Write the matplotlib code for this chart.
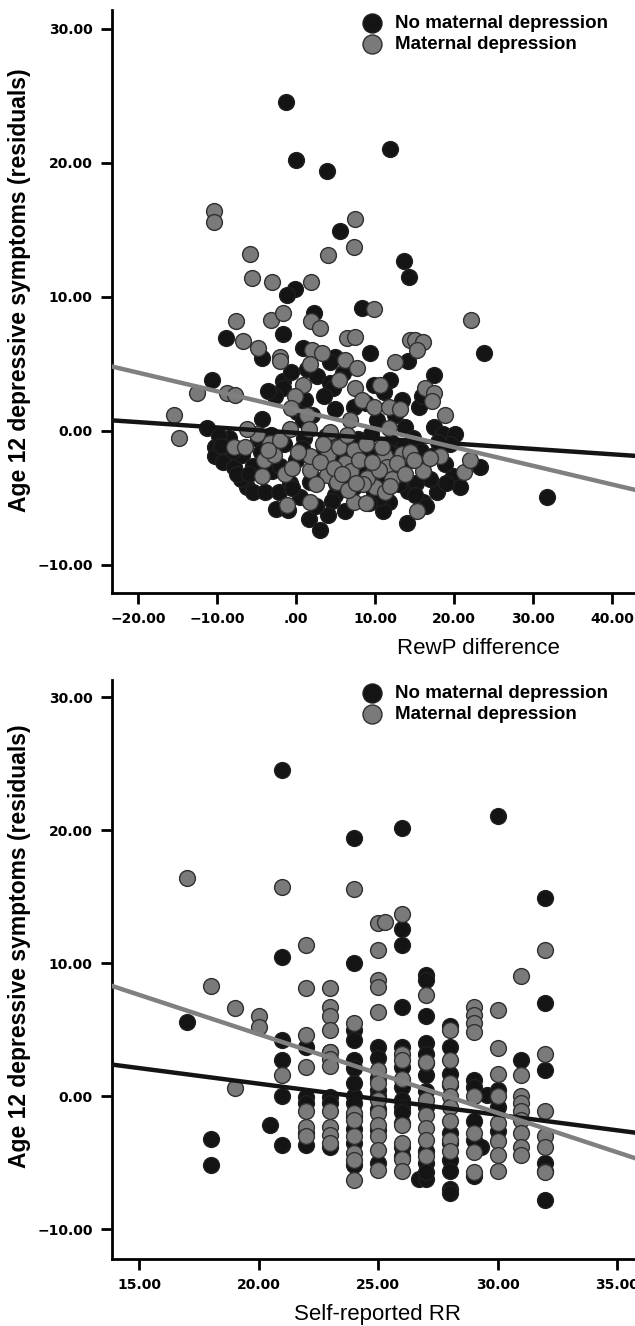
import matplotlib
matplotlib.use("Agg")
import matplotlib.pyplot as plt
from matplotlib.ticker import FuncFormatter

plt.rcParams['font.family'] = ['Liberation Sans', 'DejaVu Sans']

# top panel: RewP difference vs residual symptoms
rewp_black_x = [-1.3, 0.0, 3.9, 11.9, 5.5, 13.7, 14.3, -0.1, -1.1, 8.4, 2.3, -1.6, -8.9,
                -4.3, 0.9, 4.9, 9.3, 23.8, 14.2, 4.3,
                -10.7, 17.4, -1.6, -1.6, 1.4, 2.6, 4.3, 4.7, 11.9, 11.1, -2.7, 1.1, 7.3, 8.9,
                13.4, 15.5, -4.3, 0.1, 0.9, 4.9, 10.2, 13.8, 17.4, 18.6, 20.1, -0.6, 3.5,
                6.0, 9.8, 16.0, -3.5, 2.0, 12.5,
                -11.3, -10.3, -10.3, -9.2, -7.9, -6.2, -5.4, -3.9, -2.2, -0.8, 0.5, 1.6,
                3.0, 6.2, 4.9, 7.3, 9.8, 11.7, 14.0, 14.2, 16.1, 17.8, 19.9, 20.8, 23.3, 31.7,
                -8.5, -6.8, -5.5, -4.8, -3.0, -1.5, 0.0, 1.0, 2.2, 3.5, 4.5, 5.8, 6.8, 8.2,
                9.5, 10.8, 12.0, 13.0, 14.8, 15.8, 16.9, 18.8, 19.5, -7.0, -9.8, 2.8, 7.8,
                11.0, 4.0, -2.5, 13.5, 10.2, -1.0, 16.5, -7.5,
                -8.0, -6.0, -4.5, -2.0, -0.5, 1.8, 3.8, 5.2, 6.5, 8.8, 10.5, 12.8, 15.2,
                17.5, 19.0, -9.5, -3.2, 0.8, 2.5, 5.0, 7.0, 9.2, 11.8, 13.8, 15.0, 18.0]
rewp_black_y = [24.5, 20.2, 19.4, 21.0, 14.9, 12.7, 11.5, 10.6, 10.1, 9.2, 8.8, 7.2, 6.9,
                5.4, 6.2, 5.5, 5.8, 5.8, 5.2, 5.1,
                3.8, 4.2, 3.7, 3.2, 4.6, 4.1, 3.6, 3.2, 3.8, 2.9, 2.6, 2.3, 1.8, 2.1,
                2.3, 1.8, 0.9, 1.4, 0.8, 1.6, 0.8, 0.3, 0.3, -0.2, -0.2, 4.4, 2.6,
                4.3, 3.4, 2.6, 3.0, 1.2, 1.2,
                0.2, -1.2, -1.9, -2.3, -2.7, -4.2, -4.6, -4.6, -4.6, -3.9, -4.9, -6.6,
                -7.4, -6.0, -4.8, -4.2, -4.6, -5.3, -6.9, -4.5, -5.3, -4.6, -3.4, -4.2, -2.7, -4.9,
                -0.5, -1.8, -2.6, -0.6, -3.0, -1.0, -2.2, -0.5, -3.5, -1.2, -5.2, -0.8, -3.6, -1.8,
                -0.2, -3.2, -0.8, -4.0, -0.5, -1.5, -3.6, -2.5, -1.0, -3.6, -0.4, -2.0, -0.6,
                -6.0, -6.3, -5.8, -1.2, -1.6, -5.9, -5.6, -3.2,
                -1.5, -3.2, -1.6, -2.6, -4.3, -3.8, -0.4, -2.4, -1.5, -3.0, -5.0, -2.9, -3.9,
                -1.8, -3.9, -1.1, -0.3, -1.3, -5.6, -3.9, -2.0, -5.4, -1.6, -2.4, -4.8, -0.8]
rewp_gray_x = [-10.4, -10.4, 7.5, 7.3, -5.8, 4.1, -5.6, -3.1, 1.9, 9.8, 22.2, -7.6, -3.2,
               -1.6, 1.9, 3.0, -6.7, 6.4, 7.5,
               -4.8, -2.0, -2.0, 2.0, 3.3, 1.8, 6.2, 7.7, 12.5, 14.4, 15.1, 16.1, 15.3,
               -12.6, -8.8, -7.7, -15.5, -14.8, 5.4, 0.9, -0.1, -0.6, 1.4, 7.5, 8.3, 9.8,
               10.6, 11.7, 13.2, 16.3, 17.4, 17.2, 18.9, 6.8, 11.7,
               -7.9, -6.5, -4.1, -3.3, -2.0, -0.8, 1.6, -4.3, -1.4, -0.5, 1.8, 1.8, 3.9,
               5.2, 4.1, 5.4, 7.3, 8.9, 9.8, 10.0, 11.3, 11.5, 13.4, 14.4, 16.1, 16.1, 18.2,
               21.2, 22.0, -1.2, 1.8, 7.3, 8.9, 15.3, 4.3, 6.4, -5.0, -6.2,
               6.2, 7.0, 8.0, 9.0, 10.5, 12.2, 12.8, 3.0, 2.5, 6.6, 11.2, 13.8, 0.3, -2.8,
               14.9, 17.0, 4.8, 8.5, 5.8, 9.6, 3.4, 11.9, -3.6, 7.6, 10.9]
rewp_gray_y = [16.4, 15.6, 15.8, 13.7, 13.2, 13.1, 11.4, 11.1, 11.1, 9.1, 8.3, 8.2, 8.3,
               8.8, 8.2, 7.7, 6.7, 6.9, 7.0,
               6.2, 5.5, 5.2, 6.0, 5.8, 5.0, 5.3, 4.7, 5.1, 6.8, 6.8, 6.6, 6.0,
               2.8, 2.8, 2.7, 1.2, -0.5, 3.8, 3.4, 2.6, 1.7, 1.2, 3.2, 2.3, 1.8,
               3.4, 1.8, 1.6, 3.2, 2.8, 2.2, 1.2, 0.8, 0.2,
               -1.2, -1.2, -2.2, -0.9, -0.7, 0.1, 0.1, -3.4, -3.2, -2.8, -2.9, -1.9, -3.3,
               -3.8, -1.8, -1.2, -1.4, -1.0, -3.0, -4.2, -1.9, -2.7, -1.7, -1.6, -2.5, -3.0, -1.9,
               -3.1, -2.2, -5.5, -5.3, -5.3, -5.4, -6.0, -0.1, -0.3, -0.2, 0.1,
               -2.4, -3.0, -2.2, -3.5, -2.9, -3.6, -2.4, -2.3, -4.0, -4.4, -4.6, -3.2, -1.6, -1.8,
               -2.2, -2.0, -2.8, -4.0, -3.2, -2.3, -1.0, -4.1, -1.4, -3.9, -1.2]

# bottom panel: self-reported RR (mostly integer scores)
rr_black = {17: [5.6], 18: [-3.2, -5.2], 20.5: [-2.2],
            21: [24.5, 10.5, 4.2, 2.7, 0.0, -3.7],
            22: [3.7, -0.05, -0.55, -2.8, -3.7],
            23: [3.3, -0.05, -0.55, -3.8],
            24: [19.4, 10.0, 5.0, 4.2, 2.7, 2.1, 0.0, -0.5, -2.5, -3.5, -5.2, 1.0, -1.5],
            25: [3.7, 2.9, 1.4, 0.45, -2.56, -5.0, 0.0, -1.0],
            26: [20.2, 12.6, 11.4, 6.7, 3.7, 0.7, -0.3, -0.8, -2.0, -3.8, -4.5, 2.2, -1.2],
            26.7: [-6.2],
            27: [9.1, 8.7, 6.0, 4.0, 3.2, 1.6, 0.4, -0.8, -4.1, -5.0, -6.2, -5.7, 2.5],
            28: [5.3, 3.7, 1.7, -2.8, -3.5, -4.8, -5.6, -7.0, -7.3, 0.8],
            29: [1.2, 0.7, -1.9, -3.3, -6.0], 29.3: [-3.8], 29.55: [0.1],
            30: [21.1, 0.45, -0.8, -2.6],
            31: [2.7],
            32: [14.9, 7.0, 2.0, -5.0, -5.6, -7.8]}
rr_gray = {17: [16.4], 18: [8.3], 19: [6.6, 0.6], 20: [6.0, 5.2],
           21: [15.7, 1.6],
           22: [11.4, 8.1, 4.6, 2.2, -1.1, -2.3, -3.0],
           23: [8.1, 6.7, 6.0, 5.0, 3.3, 2.8, 2.3, -1.1, -2.3, -2.9, -3.5],
           24: [15.6, 5.5, -1.3, -1.8, -3.0, -4.3, -4.8, -6.3],
           25: [13.0, 11.0, 8.7, 8.2, 6.3, 1.95, 1.0, -0.3, -1.3, -2.2, -3.0, -4.06, -5.56],
           25.3: [13.1],
           26: [13.7, 3.2, 2.7, 1.3, -2.2, -3.5, -4.7, -5.6],
           27: [7.6, 2.6, -0.3, -1.4, -2.4, -3.3, -4.5],
           28: [4.96, 2.7, 1.0, 0.0, -0.8, -1.9, -3.3, -4.1],
           29: [6.7, 6.1, 5.5, 4.8, 0.0, -2.8, -4.2, -5.7],
           30: [6.5, 3.6, 1.7, 0.0, -2.0, -3.4, -4.4, -5.6],
           31: [9.0, 1.6, 0.0, -0.55, -1.1, -1.8, -2.8, -3.8, -4.4],
           32: [11.0, 3.2, -1.1, -3.0, -3.8, -5.7]}

# fit lines: (intercept at x=0, slope)
rewp_fit_black = (-0.15, -0.040)
rewp_fit_gray = (1.56, -0.139)
rr_fit_black = (5.62, -0.234)
rr_fit_gray = (16.5, -0.592)

labels = ["No maternal depression", "Maternal depression"]
c_black = "#141414"
c_gray = "#7a7a7a"


def unpack(d):
    xs, ys = [], []
    for k, vals in d.items():
        xs += [k] * len(vals)
        ys += vals
    return xs, ys


def fmt_y(v, pos):
    return f"{v:.2f}".replace("-", "\u2212")


def fmt_x(v, pos):
    s = f"{abs(v):.2f}"
    if abs(v) < 1:
        s = s[1:]
    return ("\u2212" if v < 0 else "") + s


def style(ax):
    for sp in ["top", "right"]:
        ax.spines[sp].set_visible(False)
    for sp in ["left", "bottom"]:
        ax.spines[sp].set_linewidth(2)
    ax.tick_params(length=8, width=2, labelsize=10, pad=6)
    ax.yaxis.set_major_formatter(FuncFormatter(fmt_y))
    ax.xaxis.set_major_formatter(FuncFormatter(fmt_x))
    for t in ax.get_xticklabels() + ax.get_yticklabels():
        t.set_fontweight("bold")
        t.set_fontfamily("DejaVu Sans")


def panel(ax, bx, by, gx, gy, fb, fg, xlim):
    h1 = ax.scatter(bx, by, s=130, c=c_black, edgecolors="#202020", linewidths=1, zorder=2)
    h2 = ax.scatter(gx, gy, s=130, c=c_gray, edgecolors="#303030", linewidths=1, zorder=2)
    xs = [xlim[0], xlim[1]]
    ax.plot(xs, [fb[0] + fb[1] * x for x in xs], color=c_black, lw=3.2, zorder=3)
    ax.plot(xs, [fg[0] + fg[1] * x for x in xs], color="#808080", lw=3.2, zorder=3)
    ax.set_xlim(xlim)
    ax.legend([h1, h2], labels, loc="upper left", bbox_to_anchor=(0.447, 1.004),
              frameon=False, handletextpad=0.25, labelspacing=0.18, borderaxespad=0.0,
              prop={"weight": "bold", "size": 13.5}, scatterpoints=1, markerscale=1.2)


fig = plt.figure(figsize=(6.35, 13.26), dpi=100)
ax1 = fig.add_axes([112 / 635, 733 / 1326, 523 / 635, 583 / 1326])
ax2 = fig.add_axes([112 / 635, 67 / 1326, 523 / 635, 579 / 1326])

panel(ax1, rewp_black_x, rewp_black_y, rewp_gray_x, rewp_gray_y,
      rewp_fit_black, rewp_fit_gray, (-23.3, 42.9))
ax1.set_ylim(-12.1, 31.4)
ax1.set_xticks([-20, -10, 0, 10, 20, 30, 40])
ax1.set_yticks([-10, 0, 10, 20, 30])
style(ax1)
ax1.set_xlabel("RewP difference", fontsize=16)
ax1.xaxis.set_label_coords(0.70, -0.077)
ax1.set_ylabel("Age 12 depressive symptoms (residuals)", fontsize=16.5, fontweight="bold")
ax1.yaxis.set_label_coords(-0.155, 0.52)

bx, by = unpack(rr_black)
gx, gy = unpack(rr_gray)
panel(ax2, bx, by, gx, gy, rr_fit_black, rr_fit_gray, (13.87, 35.75))
ax2.set_ylim(-12.25, 31.3)
ax2.set_xticks([15, 20, 25, 30, 35])
ax2.set_yticks([-10, 0, 10, 20, 30])
style(ax2)
ax2.set_xlabel("Self-reported RR", fontsize=16)
ax2.xaxis.set_label_coords(0.507, -0.078)
ax2.set_ylabel("Age 12 depressive symptoms (residuals)", fontsize=16.5, fontweight="bold")
ax2.yaxis.set_label_coords(-0.155, 0.54)

fig.savefig("out.png", dpi=100)
